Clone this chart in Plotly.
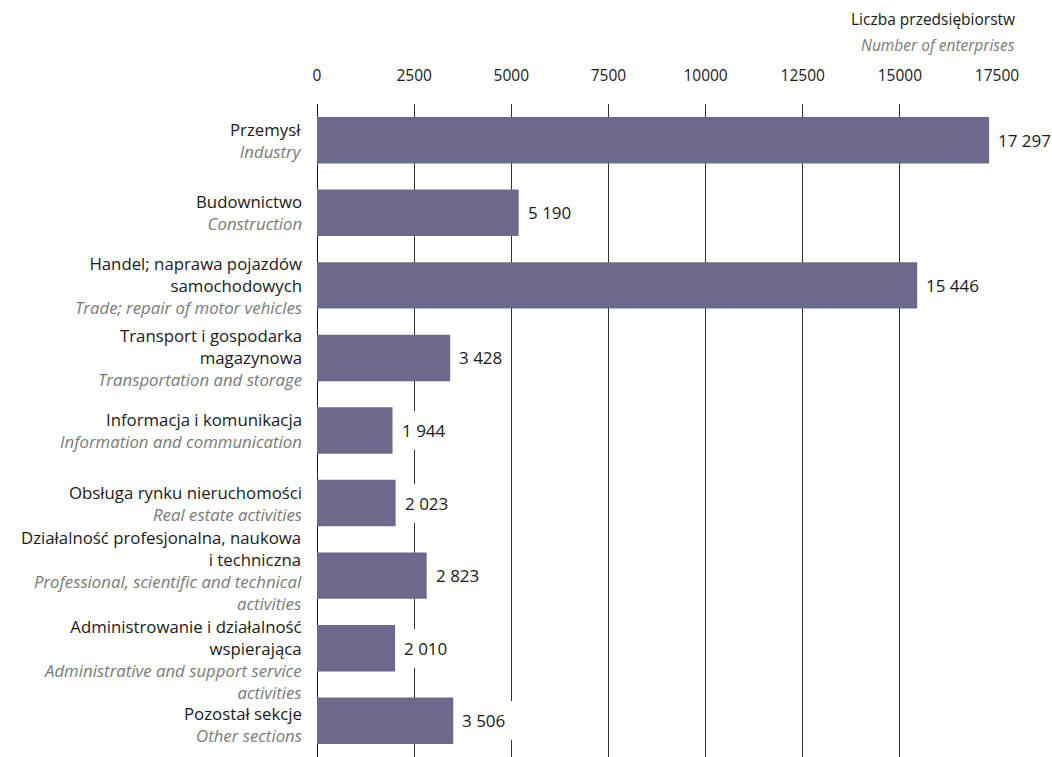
import plotly.graph_objects as go

categories_pl = [
    "Przemysł",
    "Budownictwo",
    "Handel; naprawa pojazdów<br>samochodowych",
    "Transport i gospodarka<br>magazynowa",
    "Informacja i komunikacja",
    "Obsługa rynku nieruchomości",
    "Działalność profesjonalna, naukowa<br>i techniczna",
    "Administrowanie i działalność<br>wspierająca",
    "Pozostał sekcje",
]
categories_en = [
    "Industry",
    "Construction",
    "Trade; repair of motor vehicles",
    "Transportation and storage",
    "Information and communication",
    "Real estate activities",
    "Professional, scientific and technical<br>activities",
    "Administrative and support service<br>activities",
    "Other sections",
]
values = [17297, 5190, 15446, 3428, 1944, 2023, 2823, 2010, 3506]
tick_values = [0, 2500, 5000, 7500, 10000, 12500, 15000, 17500]
tick_labels = ["0", "2500", "5000", "7500", "10000", "12500", "15000", "17500"]

FONT = "Open Sans"
FS_TICK = 15.5
FS_VAL = 17
FS_CAT = 16.8
BAR = "#6b6a8d"
GRID = "#333333"
GRAY = "#7a7a7a"
TXT = "#1a1a1a"
label_yshift = [0, 0, 0, 0, 0, 0, 5, -11, -4]

idx = list(range(len(values)))

fig = go.Figure()
fig.add_trace(go.Bar(
    x=values, y=idx, orientation="h",
    marker=dict(color=BAR, line=dict(width=0)),
    width=0.64, hoverinfo="skip",
))

annotations = []
for i, v in enumerate(values):
    annotations.append(dict(
        x=v, y=i, xref="x", yref="y", xanchor="left", yanchor="middle",
        text=f"{v:,}".replace(",", " "), showarrow=False,
        font=dict(family=FONT, size=FS_VAL, color=TXT),
        bgcolor="white", borderpad=8, borderwidth=0, xshift=1,
    ))
for i, (pl, en) in enumerate(zip(categories_pl, categories_en)):
    pl_html = "<br>".join(f"<span style='color:{TXT}'>{t}</span>" for t in pl.split("<br>"))
    en_html = "<br>".join(f"<i><span style='color:{GRAY}'>{t}</span></i>" for t in en.split("<br>"))
    annotations.append(dict(
        x=0, y=i, xref="paper", yref="y", xanchor="right", yanchor="middle",
        align="right", showarrow=False, xshift=-13, yshift=label_yshift[i],
        text=pl_html + "<br>" + en_html,
        font=dict(family=FONT, size=FS_CAT, color=TXT),
    ))
title_ann = [
    dict(px=1017, py=19, text="Liczba przedsiębiorstw", color=TXT),
    dict(px=1017, py=45, text="<i>Number of enterprises</i>", color=GRAY),
]

L, R, T, B = 317, 55, 104, 0
W, H = 1052, 757
pw, ph = W - L - R, H - T - B
for a in title_ann:
    annotations.append(dict(
        x=(a["px"] - L) / pw, y=1 + (T - a["py"]) / ph,
        xref="paper", yref="paper", showarrow=False,
        text=a["text"], xanchor="right", yanchor="middle",
        font=dict(family=FONT, size=FS_TICK, color=a["color"]),
    ))

fig.update_layout(
    width=W, height=H,
    margin=dict(l=L, r=R, t=T, b=B, pad=0),
    plot_bgcolor="white", paper_bgcolor="white",
    showlegend=False,
    annotations=annotations,
    xaxis=dict(
        side="top", range=[0, 17500], tickvals=tick_values, ticktext=tick_labels,
        showgrid=True, gridcolor=GRID, gridwidth=1.3,
        zeroline=False, showline=False, ticks="", ticklabelstandoff=19,
        tickfont=dict(family=FONT, size=FS_TICK, color=TXT),
        fixedrange=True,
    ),
    yaxis=dict(
        range=[8.5, -0.5], showticklabels=False, showgrid=False,
        zeroline=False, showline=False, ticks="", fixedrange=True,
    ),
    shapes=[dict(type="line", xref="x", yref="paper", x0=0, x1=0, y0=0, y1=1,
                 line=dict(color="#222222", width=2), layer="below")],
)

fig.write_html("out.html", config={"displayModeBar": False},
               post_script="document.body.style.margin='0';")
